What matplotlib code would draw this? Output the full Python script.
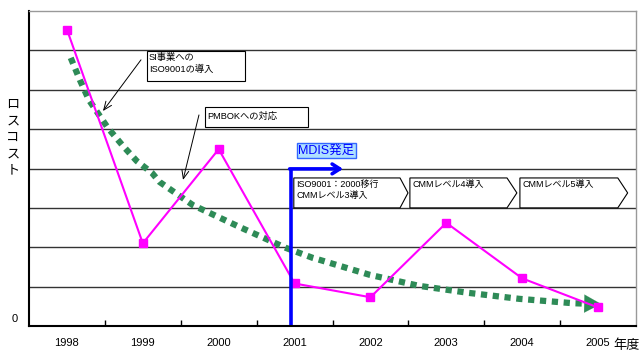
import matplotlib
matplotlib.use("Agg")
import matplotlib.pyplot as plt
from matplotlib.patches import Rectangle, Polygon

plt.rcParams['font.family'] = ['Liberation Sans', 'Noto Sans CJK JP', 'DejaVu Sans']

# Loss cost by fiscal year
years = ['1998', '1999', '2000', '2001', '2002', '2003', '2004', '2005']
loss_cost = [7.53, 2.10, 4.49, 1.08, 0.73, 2.62, 1.21, 0.47]

# Hand-drawn downward trend (x in category units, y in cost units)
trend_x = [0.05, 0.17, 0.29, 0.54, 0.74, 0.92, 1.12, 1.22, 1.66, 2.28, 2.89,
           3.24, 3.33, 3.99, 4.64, 5.30, 5.96, 6.66, 6.80]
trend_y = [6.81, 6.25, 5.74, 5.03, 4.57, 4.19, 3.89, 3.66, 3.07, 2.51, 1.98,
           1.73, 1.68, 1.30, 1.02, 0.84, 0.69, 0.58, 0.57]

# Milestones shown as chevron boxes after MDIS start
milestones = ['ISO9001：2000移行\nCMMレベル3導入', 'CMMレベル4導入', 'CMMレベル5導入']
milestone_spans = [(2.99, 4.39, 4.495), (4.52, 5.80, 5.93), (5.97, 7.26, 7.39)]

fig = plt.figure(figsize=(6.42, 3.54), dpi=100)
ax = fig.add_axes([29 / 642, 28 / 354, 607 / 642, 315 / 354])
ax.set_xlim(-0.5, 7.5)
ax.set_ylim(0, 8)

# horizontal gridlines
for yv in range(1, 8):
    ax.axhline(yv, color='#333333', lw=1.0, zorder=1)

x = list(range(len(years)))
ax.plot(x, loss_cost, color='#ff00ff', lw=1.5, marker='s', markersize=6,
        zorder=4)

# dotted trend with filled arrow head
ax.plot(trend_x, trend_y, color='#2e8b57', lw=4.5, dashes=(1.0, 0.9),
        dash_capstyle='butt', zorder=3)
ax.annotate('', xy=(7.04, 0.56), xytext=(6.78, 0.57),
            arrowprops=dict(arrowstyle='-|>,head_length=1.2,head_width=0.65',
                            color='#2e8b57', lw=0.1, shrinkA=0, shrinkB=0),
            zorder=3)

# MDIS start marker
ax.plot([2.953, 2.953], [0.03, 3.99], color='#0000ff', lw=2.6, zorder=5,
        solid_capstyle='butt')
ax.annotate('', xy=(3.64, 3.99), xytext=(2.935, 3.99),
            arrowprops=dict(arrowstyle='->,head_length=0.55,head_width=0.35',
                            color='#0000ff', lw=2.6, shrinkA=0, shrinkB=0),
            zorder=5)
ax.text(3.42, 4.45, 'MDIS発足', color='#0000ff', fontsize=9, ha='center',
        va='center', zorder=6,
        bbox=dict(boxstyle='square,pad=0.12', fc='#aee0ff', ec='#3366ff', lw=1))

# chevron milestone boxes
y_lo, y_hi = 3.0, 3.76
for label, (x0, x1, tip) in zip(milestones, milestone_spans):
    poly = Polygon([(x0, y_lo), (x0, y_hi), (x1, y_hi), (tip, (y_lo + y_hi) / 2),
                    (x1, y_lo)], closed=True, fc='white', ec='black', lw=0.8,
                   zorder=6)
    ax.add_patch(poly)
    ax.text(x0 + 0.03, y_hi - 0.04, label, fontsize=6.5, ha='left', va='top',
            linespacing=1.4, zorder=7)

# callouts
ax.add_patch(Rectangle((1.055, 6.22), 1.292, 0.76, fc='white', ec='black',
                       lw=0.8, zorder=6))
ax.text(1.08, 6.94, 'SI事業への\nISO9001の導入', fontsize=6.7, ha='left',
        va='top', linespacing=1.4, zorder=7)
ax.annotate('', xy=(0.475, 5.46), xytext=(0.976, 6.76),
            arrowprops=dict(arrowstyle='->,head_length=0.6,head_width=0.25',
                            color='black', lw=0.7, shrinkA=0, shrinkB=0),
            zorder=6)

ax.add_patch(Rectangle((1.82, 5.05), 1.357, 0.51, fc='white', ec='black',
                       lw=0.8, zorder=6))
ax.text(1.845, 5.34, 'PMBOKへの対応', fontsize=6.7, ha='left', va='center',
        zorder=7)
ax.annotate('', xy=(1.53, 3.71), xytext=(1.74, 5.36),
            arrowprops=dict(arrowstyle='->,head_length=0.6,head_width=0.25',
                            color='black', lw=0.7, shrinkA=0, shrinkB=0),
            zorder=6)

# axes styling
ax.set_xticks([i + 0.5 for i in range(len(years) - 1)])
ax.set_xticklabels([])
ax.set_xticks(x, minor=True)
ax.set_xticklabels(years, minor=True, fontsize=8)
ax.tick_params(axis='x', which='major', direction='in', length=4, width=1)
ax.tick_params(axis='x', which='minor', length=0, pad=9)
ax.set_yticks([])
for side in ('left', 'bottom'):
    ax.spines[side].set_linewidth(1.5)
    ax.spines[side].set_color('black')
for side in ('top', 'right'):
    ax.spines[side].set_linewidth(1.0)
    ax.spines[side].set_color('#999999')

ax.text(-0.69, 0.19, '0', fontsize=8, ha='center', va='center', clip_on=False)
fig.text(627 / 642, 1 - 346 / 354, '年度', fontsize=9.5, ha='center', va='center')
fig.text(13 / 642, 1 - 138 / 354, '\n'.join('ロスコスト'), fontsize=9.5,
         ha='center', va='center', linespacing=1.5)

fig.savefig('out.png', dpi=100)
